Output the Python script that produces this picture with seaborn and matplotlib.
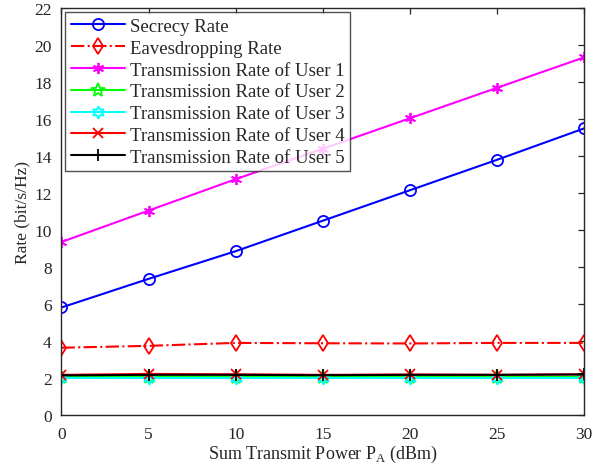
import matplotlib
matplotlib.use("Agg")
import matplotlib.pyplot as plt
import seaborn as sns
import pandas as pd

power = [0, 5, 10, 15, 20, 25, 30]
secrecy = [5.8, 7.35, 8.85, 10.5, 12.15, 13.8, 15.5]
eaves = [3.62, 3.72, 3.88, 3.86, 3.85, 3.88, 3.88]
user1 = [9.35, 11.05, 12.75, 14.4, 16.05, 17.7, 19.35]
user2 = [2.05, 2.05, 2.05, 2.05, 2.05, 2.05, 2.05]
user3 = [2.0, 2.0, 2.0, 2.0, 2.0, 2.0, 2.0]
user4 = [2.15, 2.2, 2.18, 2.15, 2.17, 2.15, 2.18]
user5 = [2.12, 2.15, 2.15, 2.13, 2.15, 2.15, 2.17]

labels = ["Secrecy Rate", "Eavesdropping Rate", "Transmission Rate of User 1",
          "Transmission Rate of User 2", "Transmission Rate of User 3",
          "Transmission Rate of User 4", "Transmission Rate of User 5"]
series = [secrecy, eaves, user1, user2, user3, user4, user5]
colors = ["#0000ff", "#ff0000", "#ff00ff", "#00ff00", "#00ffff", "#ff0000", "#000000"]
markers = ["o", "d", (6, 2, 0), "*", (6, 1, 0), "x", "+"]
styles = ["-", "-.", "-", "-", "-", "-", "-"]
sizes = [8, 8, 8, 10, 9, 7, 9]
fills = ["none", "none", "full", "none", "none", "full", "full"]

sns.set_style("white")
plt.rcParams['font.family'] = ['Liberation Serif', 'DejaVu Serif']
plt.rcParams['mathtext.fontset'] = 'custom'
plt.rcParams['mathtext.rm'] = 'Liberation Serif'

fig = plt.figure(figsize=(6.13, 4.77), dpi=100)
ax = fig.add_axes([0.1003, 0.1289, 0.8524, 0.8512])

for lab, ys, c, m, ls, ms, fs in zip(labels, series, colors, markers, styles, sizes, fills):
    df = pd.DataFrame({"x": power, "y": ys})
    kw = dict(marker=m, markersize=ms, markeredgecolor=c, markeredgewidth=1.3)
    kw["markerfacecolor"] = "none" if fs == "none" else c
    sns.lineplot(data=df, x="x", y="y", ax=ax, color=c, linestyle=ls,
                 linewidth=1.5, label=lab, **kw)

ax.set_xlim(0, 30)
ax.set_ylim(0, 22)
ax.set_xticks(range(0, 31, 5))
ax.set_yticks(range(0, 23, 2))
ax.tick_params(direction="in", length=4, labelsize=12.5, top=True, right=True,
               colors="#262626", width=0.9)
ax.tick_params(axis="x", pad=8)
ax.tick_params(axis="y", pad=7)
for sp in ax.spines.values():
    sp.set_visible(True)
    sp.set_color("#262626")
    sp.set_linewidth(1.0)
ax.set_xlabel(r"Sum Transmit Power P$_\mathrm{A}$ (dBm)", fontsize=13, color="#262626", labelpad=1)
ax.set_ylabel("Rate (bit/s/Hz)", fontsize=12.5, color="#262626", labelpad=3)
leg = ax.legend(loc="upper left", fontsize=13.5, frameon=True, fancybox=False,
                edgecolor="#262626", borderaxespad=0.2, handlelength=2.9,
                borderpad=0.3, labelspacing=0.25, handletextpad=0.25)
leg.get_frame().set_linewidth(1.0)
fig.savefig("out.png", dpi=100)
